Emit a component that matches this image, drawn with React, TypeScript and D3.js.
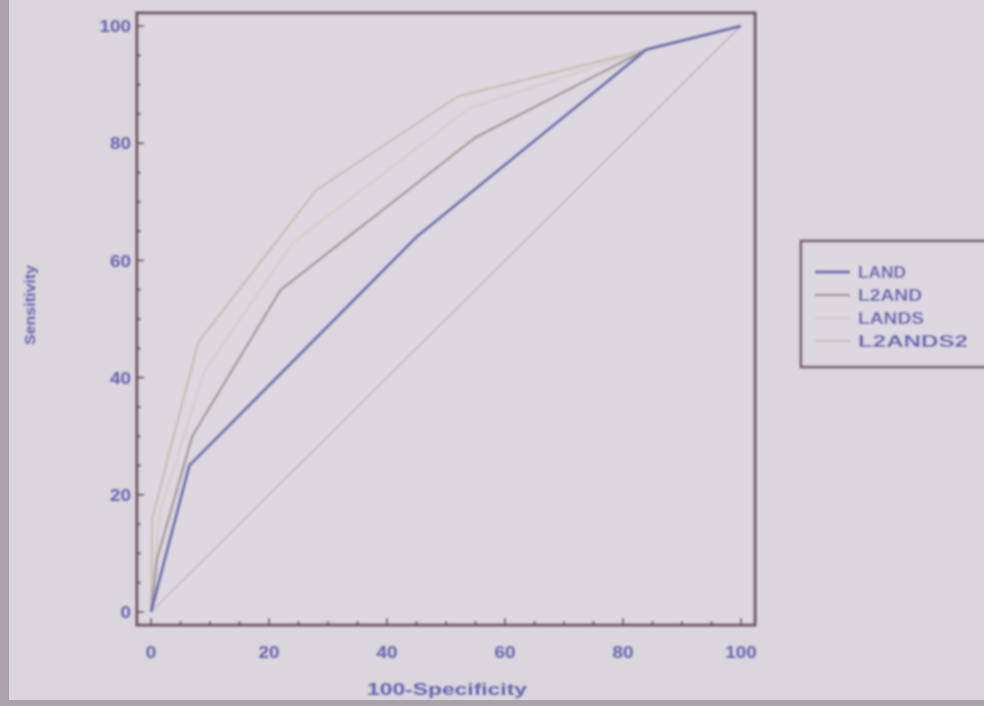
import { useEffect, useRef } from 'react';
import * as d3 from 'd3';

// ROC curves, values (100-Specificity, Sensitivity)
const SERIES_NAMES = ['LAND', 'L2AND', 'LANDS', 'L2ANDS2'];
const LAND_X = [0, 6.5, 45, 84, 100];
const LAND_Y = [0, 25, 64, 96, 100];
const L2AND_X = [0, 1, 7, 22, 55, 84, 100];
const L2AND_Y = [0, 9, 30, 55, 81, 96, 100];
const LANDS_X = [0, 1.5, 9, 24, 54, 84, 100];
const LANDS_Y = [0, 17, 41, 63, 86, 96, 100];
const L2ANDS2_X = [0, 0.2, 8, 28, 52, 84, 100];
const L2ANDS2_Y = [0, 16, 46, 72, 88, 96, 100];
const DIAG_X = [0, 100];
const DIAG_Y = [0, 100];

const X_TICKS = [0, 20, 40, 60, 80, 100];
const Y_TICKS = [0, 20, 40, 60, 80, 100];

const COLORS = ['#6a6db2', '#a39a98', '#d3cdca', '#c2c0b4'];
const WIDTHS = [3, 2.4, 2, 2.2];
const TEXT = '#6464b0';

export default function App() {
  const ref = useRef<SVGSVGElement>(null);

  useEffect(() => {
    const svg = d3.select(ref.current);
    svg.selectAll('*').remove();

    const x = d3.scaleLinear().domain([0, 100]).range([151, 741]);
    const y = d3.scaleLinear().domain([0, 100]).range([612, 26]);
    const frame = { x0: 137, y0: 13, x1: 755, y1: 625 };

    const defs = svg.append('defs');
    defs.append('filter').attr('id', 'soft')
      .append('feGaussianBlur').attr('stdDeviation', 0.8);

    svg.append('rect').attr('width', 984).attr('height', 706).attr('fill', '#dbd5dc');
    // photo edges
    svg.append('rect').attr('x', 0).attr('y', 0).attr('width', 9).attr('height', 706).attr('fill', '#aba2a9');
    svg.append('rect').attr('x', 0).attr('y', 700).attr('width', 984).attr('height', 6).attr('fill', '#aba2a9');

    const root = svg.append('g').attr('filter', 'url(#soft)');

    root.append('rect')
      .attr('x', frame.x0).attr('y', frame.y0)
      .attr('width', frame.x1 - frame.x0).attr('height', frame.y1 - frame.y0)
      .attr('fill', '#ddd7df');

    const line = d3.line<[number, number]>().x(d => x(d[0])).y(d => y(d[1]));
    const pts = (xs: number[], ys: number[]) => xs.map((v, i) => [v, ys[i]] as [number, number]);

    root.append('path').attr('d', line(pts(DIAG_X, DIAG_Y)))
      .attr('fill', 'none').attr('stroke', '#bdb7bb').attr('stroke-width', 1.6);

    const series = [
      pts(LAND_X, LAND_Y),
      pts(L2AND_X, L2AND_Y),
      pts(LANDS_X, LANDS_Y),
      pts(L2ANDS2_X, L2ANDS2_Y),
    ];
    [3, 2, 1, 0].forEach(i => {
      root.append('path').attr('d', line(series[i]))
        .attr('fill', 'none').attr('stroke', COLORS[i])
        .attr('stroke-width', WIDTHS[i]).attr('stroke-linejoin', 'round');
    });

    // frame
    root.append('rect')
      .attr('x', frame.x0).attr('y', frame.y0)
      .attr('width', frame.x1 - frame.x0).attr('height', frame.y1 - frame.y0)
      .attr('fill', 'none').attr('stroke', '#6d5560').attr('stroke-width', 3);

    // ticks, pointing inward
    const minor = d3.range(0, 101, 5);
    minor.forEach(v => {
      const len = v % 20 === 0 ? 7 : 4;
      root.append('line')
        .attr('x1', x(v)).attr('x2', x(v))
        .attr('y1', frame.y1).attr('y2', frame.y1 - len)
        .attr('stroke', '#6d5560').attr('stroke-width', 2);
      root.append('line')
        .attr('x1', frame.x0).attr('x2', frame.x0 + len)
        .attr('y1', y(v)).attr('y2', y(v))
        .attr('stroke', '#6d5560').attr('stroke-width', 2);
    });

    const font = "'Liberation Sans', Arial, sans-serif";
    const numLen = (v: number) => String(v).length * 10.5;
    X_TICKS.forEach(v => {
      root.append('text').attr('x', x(v)).attr('y', 658)
        .attr('text-anchor', 'middle').attr('fill', TEXT)
        .attr('font-family', font).attr('font-size', 17).attr('font-weight', 600)
        .attr('textLength', numLen(v)).attr('lengthAdjust', 'spacingAndGlyphs')
        .text(v);
    });
    Y_TICKS.forEach(v => {
      root.append('text').attr('x', 131).attr('y', y(v)).attr('dy', '0.36em')
        .attr('text-anchor', 'end').attr('fill', TEXT)
        .attr('font-family', font).attr('font-size', 17).attr('font-weight', 600)
        .attr('textLength', numLen(v)).attr('lengthAdjust', 'spacingAndGlyphs')
        .text(v);
    });

    root.append('text').attr('x', 447).attr('y', 695)
      .attr('text-anchor', 'middle').attr('fill', TEXT)
      .attr('font-family', font).attr('font-size', 16).attr('font-weight', 600)
      .attr('textLength', 160).attr('lengthAdjust', 'spacingAndGlyphs')
      .text('100-Specificity');
    root.append('text')
      .attr('transform', 'translate(35,305) rotate(-90)')
      .attr('text-anchor', 'middle').attr('fill', TEXT)
      .attr('font-family', font).attr('font-size', 15).attr('font-weight', 600)
      .attr('textLength', 80).attr('lengthAdjust', 'spacingAndGlyphs')
      .text('Sensitivity');

    // legend
    const lg = root.append('g');
    lg.append('rect').attr('x', 801).attr('y', 241).attr('width', 200).attr('height', 126)
      .attr('fill', '#ddd7df').attr('stroke', '#6d5560').attr('stroke-width', 2.5);
    const legendLen = [48, 64, 66, 110];
    SERIES_NAMES.forEach((name, i) => {
      const yy = 272 + i * 23;
      lg.append('line').attr('x1', 815).attr('x2', 850).attr('y1', yy).attr('y2', yy)
        .attr('stroke', COLORS[i]).attr('stroke-width', WIDTHS[i]);
      lg.append('text').attr('x', 858).attr('y', yy).attr('dy', '0.36em')
        .attr('fill', TEXT).attr('font-family', font)
        .attr('font-size', 16).attr('font-weight', 600)
        .attr('textLength', legendLen[i]).attr('lengthAdjust', 'spacingAndGlyphs')
        .text(name);
    });
  }, []);

  return (
    <svg
      ref={ref}
      width={984}
      height={706}
      style={{ position: 'absolute', left: 0, top: 0, display: 'block' }}
    />
  );
}
